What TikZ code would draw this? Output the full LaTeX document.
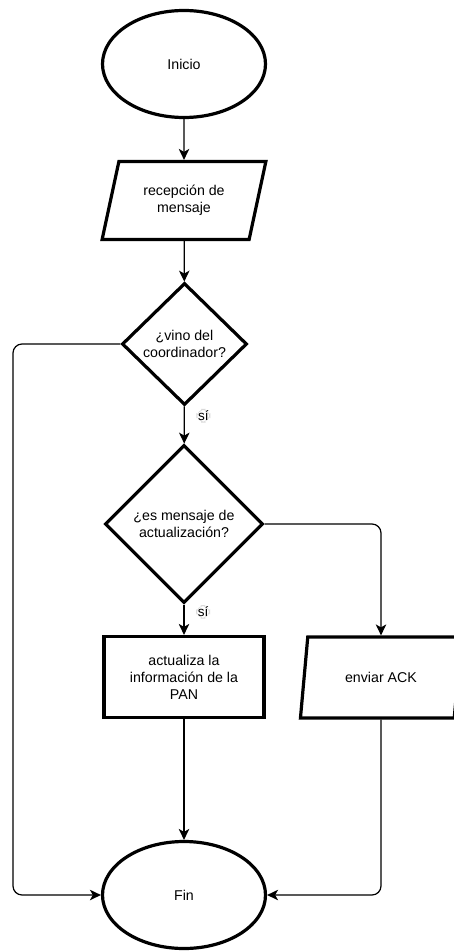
\documentclass[tikz,border=0pt]{standalone}
\usepackage{fontspec}
\setmainfont{Liberation Sans}
\usetikzlibrary{shapes.geometric,arrows.meta}
\begin{document}
\begin{tikzpicture}[x=1pt,y=-1pt,
  every node/.style={font=\fontsize{14.2}{17}\selectfont, align=center},
  terminal/.style={ellipse, draw, line width=3.2pt, minimum width=163pt, minimum height=107pt, inner sep=0pt},
  iobox/.style={trapezium, trapezium left angle=71, trapezium right angle=109, trapezium stretches=true,
    draw, line width=3.2pt, minimum width=164pt, minimum height=78pt, inner sep=0pt},
  decision/.style={diamond, aspect=1, draw, line width=3.2pt, inner sep=0pt},
  process/.style={rectangle, draw, line width=3.2pt, minimum width=160pt, minimum height=81pt, inner sep=0pt},
  flow/.style={line width=1.2pt, -{Stealth[length=11pt,width=10.5pt,inset=3pt]}, rounded corners=9pt},
  yes/.style={fill=white, draw=black!15, line width=0.5pt, inner sep=1.5pt, font=\fontsize{13.5}{16}\selectfont}
]
\useasboundingbox[fill=white] (0,0) rectangle (454,952);

\node[terminal] (inicio) at (184,64) {Inicio};
\node[iobox] (recep) at (184,200.5) {recepción de\\mensaje};
\node[decision, minimum width=125pt, minimum height=122pt] (vino) at (184.5,344) {¿vino del\\coordinador?};
\node[decision, minimum width=158pt, minimum height=158pt] (act) at (184,524) {¿es mensaje de\\actualización?};
\node[process] (upd) at (184,677) {actualiza la\\información de la\\PAN};
\node[iobox, minimum width=162pt, minimum height=81pt] (ack) at (381,677.5) {enviar ACK};
\node[terminal] (fin) at (184,895) {Fin};

\coordinate (lt) at (13,344);
\coordinate (lb) at (13,895);
\coordinate (rt) at (381,524);
\coordinate (rb) at (381,895);

\draw[flow] (inicio) -- (recep);
\draw[flow] (recep) -- (vino);
\draw[flow] (vino) -- node[yes, pos=0.25, right=12pt] {sí} (act);
\draw[flow] (act) -- node[yes, pos=0.24, right=12pt] {sí} (upd);
\draw[flow] (upd) -- (fin);
\draw[flow] (vino.west) -- (lt) -- (lb) -- (fin.west);
\draw[flow] (act.east) -- (rt) -- (ack.north);
\draw[flow] (ack.south) -- (rb) -- (fin.east);
\end{tikzpicture}
\end{document}
